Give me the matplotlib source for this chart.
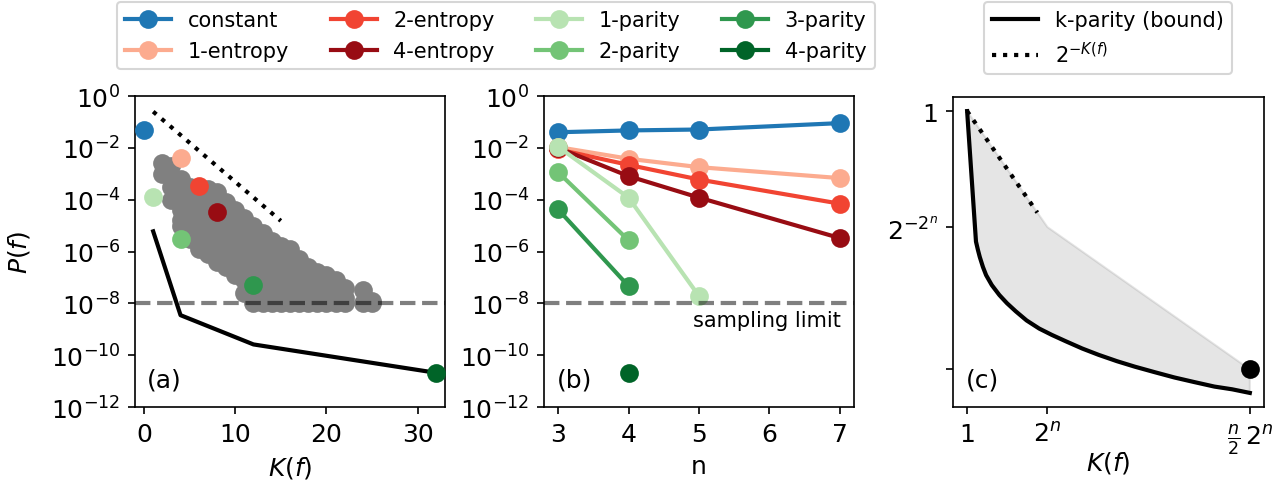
import numpy as np
import matplotlib
matplotlib.use("Agg")
import matplotlib.pyplot as plt

# ---------------- data ----------------
# panel (a): colored functions (K, P)
a_const = (0, 5e-2)
a_ent1 = (4, 4e-3)
a_ent2 = (6, 3.5e-4)
a_ent4 = (8, 3.5e-5)
a_par1 = (1, 1.3e-4)
a_par2 = (4, 3e-6)
a_par3 = (12, 5e-8)
a_par4 = (32, 2e-11)

# gray cloud: K -> list of log10 P
gray_cols = {
    2: [-2.6, -3.0],
    3: [-2.7, -3.1, -3.5, -4.0],
    4: [-3.2, -3.6, -4.0, -4.4, -4.8, -5.0],
    5: [-3.5, -3.9, -4.3, -4.7, -5.1, -5.5],
    6: [-3.5, -3.9, -4.3, -4.7, -5.1, -5.5, -5.9],
    7: [-3.6, -4.0, -4.4, -4.8, -5.2, -5.6, -6.1],
    8: [-3.7, -4.1, -4.5, -4.9, -5.3, -5.7, -6.1, -6.4],
    9: [-4.1, -4.5, -4.9, -5.3, -5.7, -6.1, -6.6],
    10: [-4.4, -4.8, -5.2, -5.6, -6.0, -6.4, -6.9],
    11: [-4.7, -5.1, -5.5, -5.9, -6.3, -6.7, -7.1, -7.6],
    12: [-5.0, -5.4, -5.8, -6.2, -6.6, -7.0, -7.4, -7.8, -8.0],
    13: [-5.3, -5.7, -6.1, -6.5, -6.9, -7.3, -7.7, -8.0],
    14: [-5.6, -6.0, -6.4, -6.8, -7.2, -7.6, -8.0],
    15: [-5.8, -6.2, -6.6, -7.0, -7.4, -7.8, -8.0],
    16: [-5.9, -6.3, -6.7, -7.1, -7.5, -8.0],
    17: [-6.3, -6.7, -7.1, -7.5, -8.0],
    18: [-6.6, -7.0, -7.4, -7.8, -8.0],
    19: [-6.8, -7.2, -7.6, -8.0],
    20: [-6.9, -7.3, -7.7, -8.0],
    21: [-7.1, -7.5, -8.0],
    22: [-7.4, -7.8, -8.0],
    24: [-7.5, -8.0],
    25: [-7.9, -8.0],
}

# 2^-K guide and k-parity bound in (a)
a_dot_K = [1, 15]
a_bound_K = [1, 4, 12, 32]
a_bound_P = [6e-6, 3.5e-9, 2.6e-10, 2.1e-11]
sampling_limit = 1e-8

# panel (b): P(f) vs n
b_n_const = [3, 4, 5, 7]
b_const = [4e-2, 4.7e-2, 5.1e-2, 9e-2]
b_n_ent = [3, 4, 5, 7]
b_ent1 = [1.07e-2, 3.8e-3, 1.8e-3, 6.8e-4]
b_ent2 = [8.7e-3, 2.2e-3, 6e-4, 7e-5]
b_ent4 = [1.0e-2, 8.1e-4, 1.2e-4, 3.3e-6]
b_n_par1 = [3, 4, 5]
b_par1 = [1.1e-2, 1.2e-4, 1.9e-8]
b_n_par2 = [3, 4]
b_par2 = [1.15e-3, 2.7e-6]
b_n_par3 = [3, 4]
b_par3 = [4.2e-5, 4.6e-8]
b_n_par4 = [4]
b_par4 = [2.1e-11]

# panel (c): schematic (n = 7), y in log2 units
c_bound_x = [1, 15, 18, 21, 26, 31, 40, 52, 64, 78, 95, 115, 135, 157, 183,
             209, 238, 266, 297, 329, 360, 392, 420, 448]
c_bound_y = [0, -144, -153, -161, -172, -181, -192, -203, -212, -221, -231,
             -240, -247, -254, -262, -269, -276, -282, -288, -294, -299,
             -304, -307, -311]
c_dot_x = [1, 112]
c_dot_y = [0, -112]
c_upper_x = [1, 128, 448]
c_upper_y = [0, -128, -285]
c_point = (448, -285)
c_xticks = [1, 128, 448]
c_xticklabels = ["1", r"$2^n$", r"$\frac{n}{2}\,2^n$"]
c_yticks = [0, -128, -285]
c_yticklabels = ["1", r"$2^{-2^n}$", ""]

labels = ["constant", "1-entropy", "2-entropy", "4-entropy",
          "1-parity", "2-parity", "3-parity", "4-parity"]

# ---------------- style ----------------
plt.rcParams["font.size"] = 10
plt.rcParams["xtick.labelsize"] = 12
plt.rcParams["ytick.labelsize"] = 12
plt.rcParams["axes.labelsize"] = 12
reds = plt.cm.Reds(np.array([0.3, 0.6, 0.9]))
greens = plt.cm.Greens(np.array([0.3, 0.5, 0.7, 0.9]))
colors = {
    "constant": "#1f77b4",
    "1-entropy": reds[0], "2-entropy": reds[1], "4-entropy": reds[2],
    "1-parity": greens[0], "2-parity": greens[1],
    "3-parity": greens[2], "4-parity": greens[3],
}
ms = 8
lw = 2

fig = plt.figure(figsize=(8.56, 3.2533), dpi=150)
axA = fig.add_axes([0.1051, 0.1639, 0.2414, 0.6373])
axB = fig.add_axes([0.4237, 0.1639, 0.2414, 0.6373])
axC = fig.add_axes([0.7422, 0.1639, 0.2422, 0.6353])

# ---------------- panel (a) ----------------
gx, gy = [], []
for k, vals in gray_cols.items():
    for v in vals:
        gx.append(k)
        gy.append(10.0 ** v)
axA.plot(gx, gy, "o", color="gray", ms=ms, zorder=2)
for name, pt in zip(labels, [a_const, a_ent1, a_ent2, a_ent4,
                             a_par1, a_par2, a_par3, a_par4]):
    axA.plot([pt[0]], [pt[1]], "o", color=colors[name], ms=ms, zorder=3)
dk = np.array(a_dot_K, dtype=float)
axA.plot(dk, 2.0 ** -(dk + 1), ":", color="black", lw=lw, zorder=3)
axA.plot(a_bound_K, a_bound_P, "-", color="black", lw=lw, zorder=2)
axA.axhline(sampling_limit, color="black", alpha=0.5, ls="--", lw=lw, zorder=4)
axA.set_yscale("log")
axA.set_ylim(1e-12, 1)
axA.set_yticks([10.0 ** e for e in range(-12, 1, 2)])
axA.minorticks_off()
axA.set_xlim(-1, 33)
axA.set_xticks([0, 10, 20, 30])
axA.set_xlabel(r"$K(f)$")
axA.set_ylabel(r"$P(f)$", labelpad=9)
axA.text(0.04, 0.05, "(a)", transform=axA.transAxes, fontsize=12,
         ha="left", va="bottom")

# ---------------- panel (b) ----------------
series_b = [
    ("constant", b_n_const, b_const),
    ("1-entropy", b_n_ent, b_ent1),
    ("2-entropy", b_n_ent, b_ent2),
    ("4-entropy", b_n_ent, b_ent4),
    ("1-parity", b_n_par1, b_par1),
    ("2-parity", b_n_par2, b_par2),
    ("3-parity", b_n_par3, b_par3),
    ("4-parity", b_n_par4, b_par4),
]
handles = []
for name, xs, ys in series_b:
    h, = axB.plot(xs, ys, "-o", color=colors[name], ms=ms, lw=lw, label=name)
    handles.append(h)
axB.axhline(sampling_limit, color="black", alpha=0.5, ls="--", lw=lw)
axB.set_yscale("log")
axB.set_ylim(1e-12, 1)
axB.set_yticks([10.0 ** e for e in range(-12, 1, 2)])
axB.minorticks_off()
axB.set_xticks([3, 4, 5, 6, 7])
axB.set_xlabel("n")
axB.text(7.02, 10 ** -8.25, "sampling limit", ha="right", va="top", fontsize=10)
axB.text(0.04, 0.05, "(b)", transform=axB.transAxes, fontsize=12,
         ha="left", va="bottom")

# ---------------- panel (c) ----------------
poly_x = list(c_upper_x) + [c_bound_x[-1]] + list(c_bound_x[::-1])
poly_y = list(c_upper_y) + [c_bound_y[-1]] + list(c_bound_y[::-1])
axC.fill(poly_x, poly_y, color="gray", alpha=0.2, lw=1)
hb, = axC.plot(c_bound_x, c_bound_y, "-", color="black", lw=lw,
               label="k-parity (bound)")
hd, = axC.plot(c_dot_x, c_dot_y, ":", color="black", lw=lw,
               label=r"$2^{-K(f)}$")
axC.plot([c_point[0]], [c_point[1]], "o", color="black", ms=ms)
axC.set_xticks(c_xticks)
axC.set_xticklabels(c_xticklabels)
axC.set_yticks(c_yticks)
axC.set_yticklabels(c_yticklabels)
axC.set_xlabel(r"$K(f)$")
axC.xaxis.set_label_coords(0.5, -0.135)
axC.text(0.04, 0.05, "(c)", transform=axC.transAxes, fontsize=12,
         ha="left", va="bottom")

# ---------------- legends ----------------
fig.legend(handles=handles, loc="upper center", ncol=4, handlelength=2.2,
           bbox_to_anchor=(496 / 1284, 1.0), borderaxespad=0.15, fontsize=10)
fig.legend(handles=[hb, hd], loc="upper center", ncol=1, handlelength=2.2,
           bbox_to_anchor=(1108 / 1284, 1.0), borderaxespad=0.15, fontsize=10)

fig.savefig("out.png", dpi=150)
